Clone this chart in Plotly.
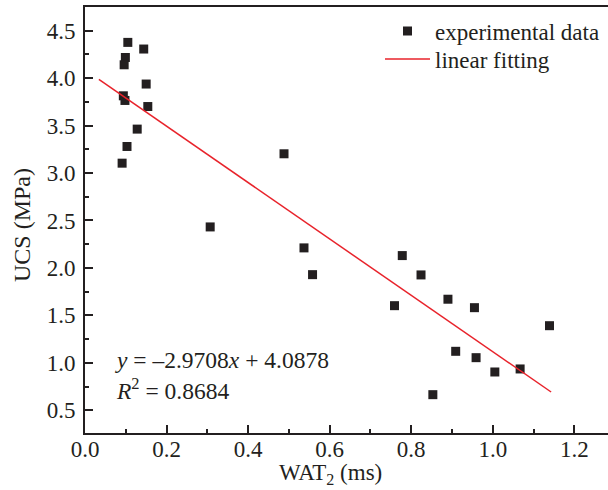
import plotly.graph_objects as go

# Data
wat2 = [0.105, 0.144, 0.099, 0.096, 0.150, 0.094, 0.098, 0.154, 0.128, 0.103, 0.091,
        0.488, 0.307, 0.537, 0.558, 0.778, 0.824, 0.759, 0.890, 0.955, 1.139,
        0.909, 0.959, 1.005, 1.067, 0.853]
ucs = [4.377, 4.307, 4.218, 4.141, 3.938, 3.814, 3.765, 3.701, 3.463, 3.280, 3.104,
       3.203, 2.432, 2.211, 1.929, 2.130, 1.926, 1.602, 1.670, 1.581, 1.391,
       1.121, 1.054, 0.903, 0.935, 0.664]

fit_slope = -2.9708
fit_intercept = 4.0878
fit_r2 = 0.8684
fit_x = [0.034, 1.143]
fit_y = [fit_slope * v + fit_intercept for v in fit_x]

x_ticks = [0.0, 0.2, 0.4, 0.6, 0.8, 1.0, 1.2]
y_ticks = [0.5, 1.0, 1.5, 2.0, 2.5, 3.0, 3.5, 4.0, 4.5]

FONT = "Liberation Serif, Times New Roman, serif"
FS = 23
INK = "#231f20"

ML, MT, MB = 85, 7, 57
PW, PH = 608 - ML, 490 - MT - MB


def px_x(p):
    return (p - ML) / PW


def px_y(p):
    return (490 - MB - p) / PH


fig = go.Figure()
fig.add_trace(go.Scatter(
    x=wat2, y=ucs, mode="markers", name="experimental data", legend="legend",
    marker=dict(symbol="square", size=9, color=INK, line=dict(width=0)),
))
fig.add_trace(go.Scatter(
    x=fit_x, y=fit_y, mode="lines", name="linear fitting", legend="legend2",
    line=dict(color="#e8232b", width=1.5),
))

axis_common = dict(
    showline=True, linecolor=INK, linewidth=2,
    ticks="inside", ticklen=8, tickwidth=2, tickcolor=INK,
    showgrid=False, zeroline=False,
    tickfont=dict(family=FONT, size=FS, color=INK),
)

fig.update_xaxes(
    range=[0, 1.2825], tickvals=x_ticks, ticktext=[f"{v:.1f}" for v in x_ticks],
    minor=dict(ticks="inside", ticklen=4, tickwidth=2, tickcolor=INK, dtick=0.1, tick0=0, showgrid=False),
    mirror=True, ticklabelstandoff=-6,
    **axis_common,
)
fig.update_yaxes(
    range=[0.26, 4.75], tickvals=y_ticks, ticktext=[f"{v:.1f}" for v in y_ticks],
    minor=dict(ticks="inside", ticklen=4, tickwidth=2, tickcolor=INK, dtick=0.25, tick0=0, showgrid=False),
    mirror=False, ticklabelstandoff=3,
    **axis_common,
)

fig.add_annotation(
    xref="paper", yref="paper", x=px_x(330), y=px_y(474),
    text="WAT<sub>2</sub> (ms)", showarrow=False, xanchor="center", yanchor="middle",
    font=dict(family=FONT, size=FS, color=INK),
)
fig.add_annotation(
    xref="paper", yref="paper", x=px_x(22), y=px_y(225),
    text="UCS (MPa)", textangle=-90, showarrow=False, xanchor="center", yanchor="middle",
    font=dict(family=FONT, size=24, color=INK),
)
fig.add_annotation(
    xref="paper", yref="paper", x=px_x(113), y=px_y(375),
    text=f"<i>y</i> = –{abs(fit_slope):.4f}<i>x</i> + {fit_intercept:.4f}<br><i>R</i><sup>2</sup> = {fit_r2:.4f}",
    showarrow=False, xanchor="left", yanchor="middle", align="left",
    font=dict(family=FONT, size=23.5, color=INK),
)

legend_common = dict(
    xanchor="left", yanchor="middle",
    bgcolor="rgba(0,0,0,0)", borderwidth=0,
    font=dict(family=FONT, size=FS, color=INK),
    itemwidth=45,
)

fig.update_layout(
    width=608, height=490,
    margin=dict(l=ML, r=0, t=MT, b=MB),
    paper_bgcolor="white", plot_bgcolor="white",
    showlegend=True,
    legend=dict(x=px_x(380), y=px_y(31), **legend_common),
    legend2=dict(x=px_x(380), y=px_y(59), **legend_common),
)

fig.write_html("out.html", config={"displayModeBar": False},
               post_script="document.body.style.margin='0';")
